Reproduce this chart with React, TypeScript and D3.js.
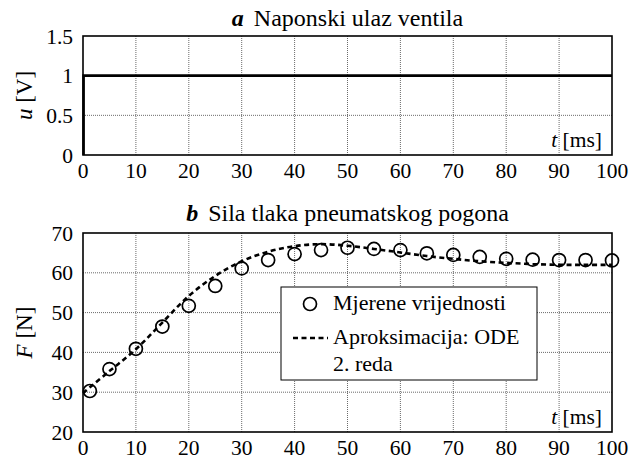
import * as d3 from "d3";
import { useEffect, useRef } from "react";

// --- data ---
const stepT = [0, 0, 100];
const stepU = [0, 1, 1];

const measT = [1.3, 5, 10, 15, 20, 25, 30, 35, 40, 45, 50, 55, 60, 65, 70, 75, 80, 85, 90, 95, 100];
const measF = [30.3, 35.8, 40.9, 46.5, 51.7, 56.7, 61.1, 63.2, 64.7, 65.7, 66.3, 66.0, 65.7, 64.9, 64.5, 64.0, 63.5, 63.3, 63.2, 63.2, 63.1];

const odeT = [0, 5, 10, 15, 20, 25, 30, 35, 40, 45, 50, 55, 60, 65, 70, 75, 80, 85, 90, 95, 100];
const odeF = [29.8, 35.3, 40.8, 47.5, 54.2, 59.2, 62.9, 65.3, 66.7, 67.2, 66.8, 66.0, 65.1, 64.2, 63.5, 62.9, 62.5, 62.2, 62.0, 62.0, 62.0];

const xTicks = [0, 10, 20, 30, 40, 50, 60, 70, 80, 90, 100];
const uTicks = [0, 0.5, 1, 1.5];
const fTicks = [20, 30, 40, 50, 60, 70];

const W = 629;
const H = 459;
const FONT = '"Liberation Serif", "Times New Roman", Times, serif';

const App = () => {
  const ref = useRef<SVGSVGElement | null>(null);

  useEffect(() => {
    if (!ref.current) return;
    const svg = d3.select(ref.current);
    svg.selectAll("*").remove();

    const x = d3.scaleLinear().domain([0, 100]).range([83, 612]);

    // draws grid, tick labels, title and axis labels for one panel
    function panel(y: d3.ScaleLinear<number, number>, yTicks: number[], title: string, letter: string, titleGap: number, yName: string, yUnit: string) {
      const [y0, y1] = y.range();
      const g = svg.append("g");

      const grid = g.append("g").attr("stroke", "#444").attr("stroke-width", 0.8).attr("stroke-dasharray", "1,1");
      grid.selectAll("line.v").data(xTicks.slice(1, -1)).enter().append("line")
        .attr("x1", (d) => x(d)).attr("x2", (d) => x(d)).attr("y1", y0).attr("y2", y1);
      grid.selectAll("line.h").data(yTicks.slice(1, -1)).enter().append("line")
        .attr("x1", x(0)).attr("x2", x(100)).attr("y1", (d) => y(d)).attr("y2", (d) => y(d));

      g.append("g").style("font-family", FONT).style("font-size", "21.5px")
        .selectAll("text").data(xTicks).enter().append("text")
        .attr("x", (d) => x(d)).attr("y", y0 + 23).attr("text-anchor", "middle").text((d) => d);
      g.append("g").style("font-family", FONT).style("font-size", "21.5px")
        .selectAll("text").data(yTicks).enter().append("text")
        .attr("x", 73).attr("y", (d) => y(d)).attr("dy", "0.35em").attr("text-anchor", "end").text((d) => String(d));

      const t = g.append("text").style("font-family", FONT).style("font-size", "24px")
        .attr("x", (x(0) + x(100)) / 2).attr("y", y1 - titleGap).attr("text-anchor", "middle");
      t.append("tspan").attr("font-weight", "bold").attr("font-style", "italic").text(letter);
      t.append("tspan").attr("dx", 10).text(title);

      const yl = g.append("text").style("font-family", FONT).style("font-size", "23px")
        .attr("text-anchor", "middle")
        .attr("transform", `translate(32,${(y0 + y1) / 2}) rotate(-90)`);
      yl.append("tspan").attr("font-style", "italic").text(yName);
      yl.append("tspan").text(" " + yUnit);

      const tl = g.append("text").style("font-family", FONT).style("font-size", "21.5px")
        .attr("x", 602).attr("y", y0 - 8).attr("text-anchor", "end");
      tl.append("tspan").attr("font-style", "italic").text("t");
      tl.append("tspan").text(" [ms]");

      return g;
    }

    // --- panel a ---
    const yU = d3.scaleLinear().domain([0, 1.5]).range([155, 36]);
    const ga = panel(yU, uTicks, "Naponski ulaz ventila", "a", 10, "u", "[V]");
    const stepLine = d3.line<number>().x((_, i) => x(stepT[i]) + (i < 2 ? 0.6 : 0)).y((d) => yU(d));
    ga.append("path").attr("d", stepLine(stepU)).attr("fill", "none").attr("stroke", "#000").attr("stroke-width", 2.6);
    ga.append("rect").attr("x", x(0)).attr("y", 36).attr("width", x(100) - x(0)).attr("height", 155 - 36)
      .attr("fill", "none").attr("stroke", "#000").attr("stroke-width", 1.6);

    // --- panel b ---
    const yF = d3.scaleLinear().domain([20, 70]).range([432, 233]);
    const gb = panel(yF, fTicks, "Sila tlaka pneumatskog pogona", "b", 12, "F", "[N]");

    const odeLine = d3.line<number>().x((_, i) => x(odeT[i])).y((d) => yF(d)).curve(d3.curveCatmullRom);
    gb.append("path").attr("d", odeLine(odeF)).attr("fill", "none").attr("stroke", "#000")
      .attr("stroke-width", 2.6).attr("stroke-dasharray", "5,3.5");
    gb.append("g").selectAll("circle").data(measF).enter().append("circle")
      .attr("cx", (_, i) => x(measT[i])).attr("cy", (d) => yF(d)).attr("r", 6.5)
      .attr("fill", "none").attr("stroke", "#000").attr("stroke-width", 1.7);

    // legend
    const lg = gb.append("g").style("font-family", FONT).style("font-size", "22px");
    lg.append("rect").attr("x", 281).attr("y", 287).attr("width", 256).attr("height", 93)
      .attr("fill", "#fff").attr("stroke", "#000").attr("stroke-width", 1);
    lg.append("circle").attr("cx", 310).attr("cy", 304).attr("r", 6.5)
      .attr("fill", "none").attr("stroke", "#000").attr("stroke-width", 1.7);
    lg.append("text").attr("x", 333).attr("y", 310).text("Mjerene vrijednosti");
    lg.append("line").attr("x1", 293).attr("x2", 328).attr("y1", 338).attr("y2", 338)
      .attr("stroke", "#000").attr("stroke-width", 2.6).attr("stroke-dasharray", "5,3.5");
    lg.append("text").attr("x", 333).attr("y", 344).text("Aproksimacija: ODE");
    lg.append("text").attr("x", 333).attr("y", 371).text("2. reda");

    gb.append("rect").attr("x", x(0)).attr("y", 233).attr("width", x(100) - x(0)).attr("height", 432 - 233)
      .attr("fill", "none").attr("stroke", "#000").attr("stroke-width", 1.6);
  }, []);

  return (
    <>
      <style>{`body{margin:0;background:#fff}`}</style>
      <svg ref={ref} width={W} height={H} style={{ display: "block" }} />
    </>
  );
};

export default App;
